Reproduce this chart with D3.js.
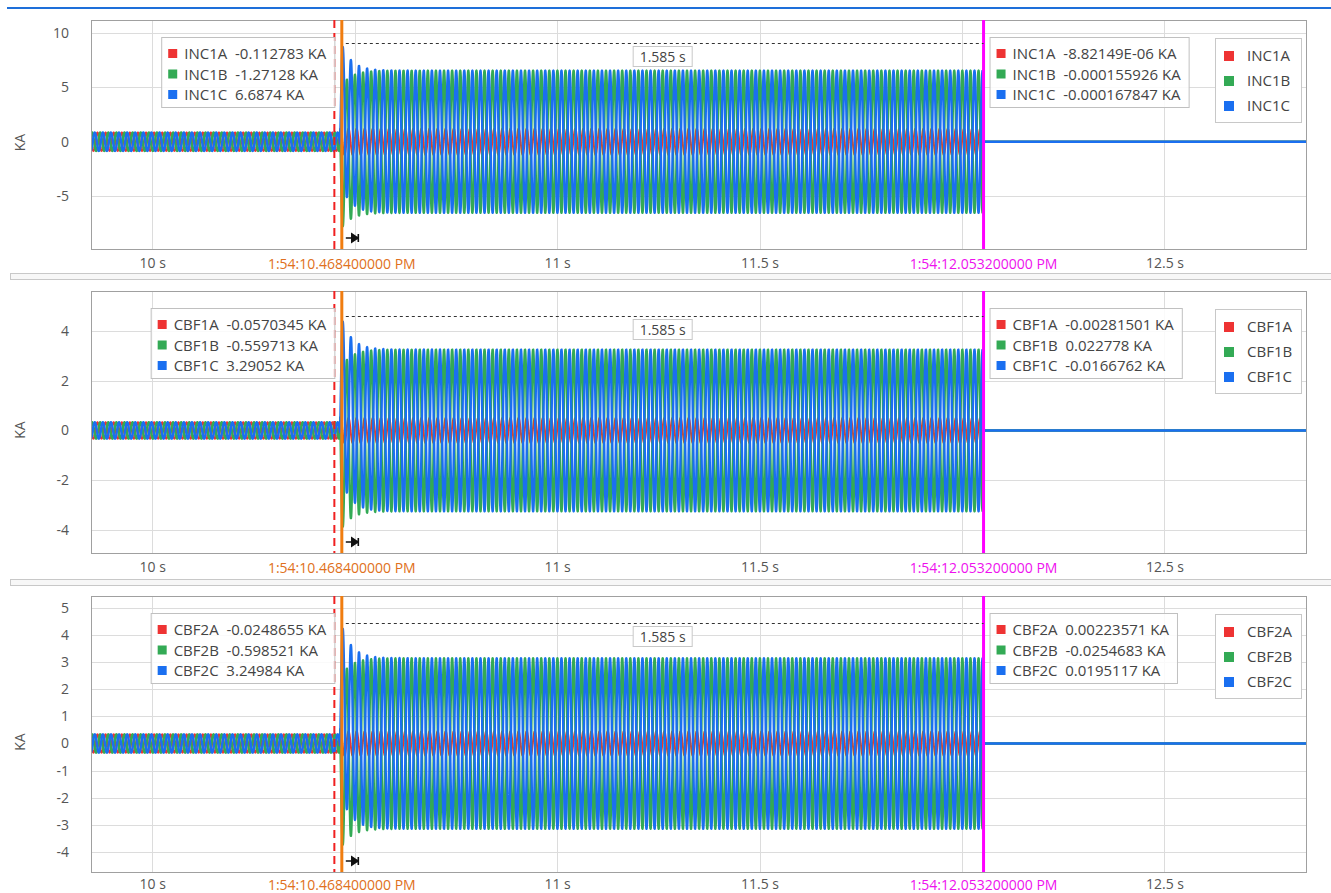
<!DOCTYPE html>
<html>
<head>
<meta charset="utf-8">
<script src="https://cdn.jsdelivr.net/npm/d3@7"></script>
<style>
  body { margin: 0; background: #fff; }
  svg text { font-family: "Open Sans", "Noto Sans", sans-serif; }
</style>
</head>
<body>
<div id="chart"></div>
<script>
// channel groups and phases
const groups = ["INC1", "CBF1", "CBF2"];
const phases = ["A", "B", "C"];
const phaseColors = ["#ee3333", "#33aa55", "#1a6ff0"];

// axes
const xTicks = [10, 10.5, 11, 11.5, 12, 12.5];
const xLabels = ["10 s", "", "11 s", "11.5 s", "", "12.5 s"];
const yTicks = [[-5, 0, 5, 10], [-4, -2, 0, 2, 4], [-4, -3, -2, -1, 0, 1, 2, 3, 4, 5]];
const yDomains = [[-9.87, 11.2], [-4.92, 5.6], [-4.74, 5.44]];

// event times (s)
const tTrigger = 10.45;
const tCursor1 = 10.4684;
const tCursor2 = 12.0532;
const tFault = 10.4645;
const tTrip = 12.051;
const cursorLabel1 = "1:54:10.468400000 PM";
const cursorLabel2 = "1:54:12.053200000 PM";
const deltaLabel = "1.585 s";

// waveform readings (KA) per group
const freq = 50;
const preAmp = [0.85, 0.33, 0.34];
const prePhaseDeg = [0, -120, 120];
const faultAmpA = [1.2, 0.5, 0.45];
const faultAmpBC = [6.55, 3.25, 3.15];
const dcOffsetB = [-1.6, -0.8, -0.75];
const dcOffsetC = [2.8, 1.45, 1.4];
const faultPhaseDeg = -24;
const dcTau = 0.025;
const guideLevel = [9.1, 4.6, 4.45];

// cursor readouts
const cursor1Values = [
  ["-0.112783", "-1.27128", "6.6874"],
  ["-0.0570345", "-0.559713", "3.29052"],
  ["-0.0248655", "-0.598521", "3.24984"]
];
const cursor2Values = [
  ["-8.82149E-06", "-0.000155926", "-0.000167847"],
  ["-0.00281501", "0.022778", "-0.0166762"],
  ["0.00223571", "-0.0254683", "0.0195117"]
];

const width = 1331, height = 893;
const left = 91, right = 1307;
const panelBox = [[20, 249], [291, 553], [596, 872]];
const labelPad = [9, 9, 7];
const separators = [273, 579];
const fs = "14px";
const legendFs = "15px";

const svg = d3.select("#chart").append("svg")
  .attr("width", width).attr("height", height);

svg.append("line")
  .attr("x1", 7).attr("x2", width).attr("y1", 8).attr("y2", 8)
  .attr("stroke", "#1e6fd9").attr("stroke-width", 2);

separators.forEach(y => {
  svg.append("rect")
    .attr("x", 10.5).attr("y", y + 0.5).attr("width", width - 10).attr("height", 6)
    .attr("fill", "#f7f7f7").attr("stroke", "#c8c8c8");
});

const x = d3.scaleLinear().domain([9.849, 12.852]).range([left, right]);
const w = 2 * Math.PI * freq;
const rad = d => d * Math.PI / 180;

function value(p, k, t) {
  if (t < tFault) return preAmp[p] * Math.sin(w * t + rad(prePhaseDeg[k]));
  if (t >= tTrip) return 0;
  const dt = t - tFault;
  const decay = Math.exp(-dt / dcTau);
  const s = Math.sin(w * dt + rad(faultPhaseDeg));
  if (k === 0) return faultAmpA[p] * Math.sin(w * t + rad(prePhaseDeg[0]));
  if (k === 1) return -faultAmpBC[p] * s + dcOffsetB[p] * decay;
  return faultAmpBC[p] * s + dcOffsetC[p] * decay;
}

groups.forEach((name, p) => {
  const [top, bottom] = panelBox[p];
  const y = d3.scaleLinear().domain(yDomains[p]).range([bottom, top]);
  const g = svg.append("g");

  g.append("clipPath").attr("id", "clip" + p)
    .append("rect").attr("x", left).attr("y", top)
    .attr("width", right - left).attr("height", bottom - top);

  // grid
  g.append("g").selectAll("line").data(yTicks[p]).join("line")
    .attr("x1", left).attr("x2", right)
    .attr("y1", d => Math.round(y(d)) + 0.5).attr("y2", d => Math.round(y(d)) + 0.5)
    .attr("stroke", "#dcdcdc");
  g.append("g").selectAll("line").data(xTicks).join("line")
    .attr("y1", top).attr("y2", bottom)
    .attr("x1", d => Math.round(x(d)) + 0.5).attr("x2", d => Math.round(x(d)) + 0.5)
    .attr("stroke", "#dcdcdc");

  // axes
  const ya = g.append("g").attr("transform", `translate(${left},0)`)
    .call(d3.axisLeft(y).tickValues(yTicks[p]).tickSize(0).tickPadding(22).tickFormat(d => String(d)));
  ya.select(".domain").remove();
  ya.selectAll("text").attr("fill", "#555").style("font-size", fs);

  const xa = g.append("g").attr("transform", `translate(0,${bottom})`)
    .call(d3.axisBottom(x).tickValues(xTicks).tickSize(0).tickPadding(labelPad[p])
      .tickFormat((d, i) => xLabels[i]));
  xa.select(".domain").remove();
  xa.selectAll("text").attr("fill", "#555").style("font-size", fs);

  g.append("text")
    .attr("transform", `translate(25,${(top + bottom) / 2 + 8}) rotate(-90)`)
    .attr("text-anchor", "middle").attr("fill", "#555").style("font-size", fs)
    .text("KA");

  // waveforms
  const times = d3.range(9.849, 12.853, 0.0005);
  const line = d3.line().x(d => x(d[0])).y(d => y(d[1]));
  const wg = g.append("g").attr("clip-path", `url(#clip${p})`);
  phases.forEach((ph, k) => {
    wg.append("path")
      .datum(times.map(t => [t, value(p, k, t)]))
      .attr("fill", "none").attr("stroke", phaseColors[k])
      .attr("stroke-width", k === 0 ? 2 : 2.4).attr("stroke-linejoin", "round")
      .attr("d", line);
  });

  // plot border
  g.append("rect").attr("x", left + 0.5).attr("y", top + 0.5)
    .attr("width", right - left - 1).attr("height", bottom - top)
    .attr("fill", "none").attr("stroke", "#a0a0a0");

  // cursors
  const xr = x(tTrigger), x1 = x(tCursor1), x2 = x(tCursor2);
  g.append("line").attr("x1", xr).attr("x2", xr).attr("y1", top).attr("y2", bottom)
    .attr("stroke", "#f02020").attr("stroke-width", 2).attr("stroke-dasharray", "8,5");
  g.append("line").attr("x1", x1).attr("x2", x1).attr("y1", top).attr("y2", bottom)
    .attr("stroke", "#f07d10").attr("stroke-width", 3);
  g.append("line").attr("x1", x2).attr("x2", x2).attr("y1", top).attr("y2", bottom)
    .attr("stroke", "#ff00ff").attr("stroke-width", 3);

  const ly = bottom + labelPad[p] + 11;
  g.append("text").attr("x", x1).attr("y", ly).attr("text-anchor", "middle")
    .attr("fill", "#e07020").style("font-size", fs).text(cursorLabel1);
  g.append("text").attr("x", x2).attr("y", ly).attr("text-anchor", "middle")
    .attr("fill", "#ee10ee").style("font-size", fs).text(cursorLabel2);

  // delta guide
  const gy = Math.round(y(guideLevel[p])) + 0.5;
  g.append("line").attr("x1", x1 + 4).attr("x2", x2).attr("y1", gy).attr("y2", gy)
    .attr("stroke", "#333").attr("stroke-dasharray", "3,3");
  const mid = (x1 + x2) / 2;
  const dbox = g.append("rect");
  const dt = g.append("text").attr("x", mid).attr("y", gy + 18).attr("text-anchor", "middle")
    .attr("fill", "#444").style("font-size", fs).text(deltaLabel);
  const dw = dt.node().getComputedTextLength();
  dbox.attr("x", mid - dw / 2 - 6.5).attr("y", gy + 3).attr("width", dw + 13).attr("height", 20)
    .attr("fill", "#fff").attr("stroke", "#c8c8c8");

  // pin marker
  const py = bottom - 11;
  g.append("path")
    .attr("d", `M${x1 + 4},${py} H${x1 + 12} M${x1 + 10},${py - 4} L${x1 + 16},${py} L${x1 + 10},${py + 4} Z M${x1 + 16.5},${py - 4} V${py + 4}`)
    .attr("stroke", "#111").attr("stroke-width", 1.6).attr("fill", "#111");

  // cursor readout boxes
  function readout(values, anchorX, alignRight) {
    const bg = g.append("g");
    const rect = bg.append("rect");
    const texts = phases.map((ph, k) => bg.append("text")
      .attr("y", top + 39 + k * 20.5).attr("fill", "#444").style("font-size", legendFs)
      .text(`${name}${ph}\u00a0\u00a0${values[k]} KA`));
    const tw = d3.max(texts, t => t.node().getComputedTextLength());
    const bw = tw + 31;
    const bx = alignRight ? anchorX - bw : anchorX;
    rect.attr("x", bx + 0.5).attr("y", top + 17.5).attr("width", bw).attr("height", 70)
      .attr("fill", "#fff").attr("fill-opacity", 0.85).attr("stroke", "#c0c0c0");
    texts.forEach(t => t.attr("x", bx + 23));
    phases.forEach((ph, k) => bg.append("rect")
      .attr("x", bx + 7).attr("y", top + 29 + k * 20.5).attr("width", 9).attr("height", 9)
      .attr("fill", phaseColors[k]));
  }
  readout(cursor1Values[p], xr, true);
  readout(cursor2Values[p], x2 + 6, false);

  // series legend
  const lg = g.append("g");
  lg.append("rect").attr("x", 1215.5).attr("y", top + 18.5).attr("width", 86).attr("height", 84)
    .attr("fill", "#fff").attr("stroke", "#c8c8c8");
  phases.forEach((ph, k) => {
    lg.append("rect").attr("x", 1224).attr("y", top + 31 + k * 25).attr("width", 10).attr("height", 10)
      .attr("fill", phaseColors[k]);
    lg.append("text").attr("x", 1247).attr("y", top + 41 + k * 25)
      .attr("fill", "#444").style("font-size", legendFs).text(name + ph);
  });
});
</script>
</body>
</html>
